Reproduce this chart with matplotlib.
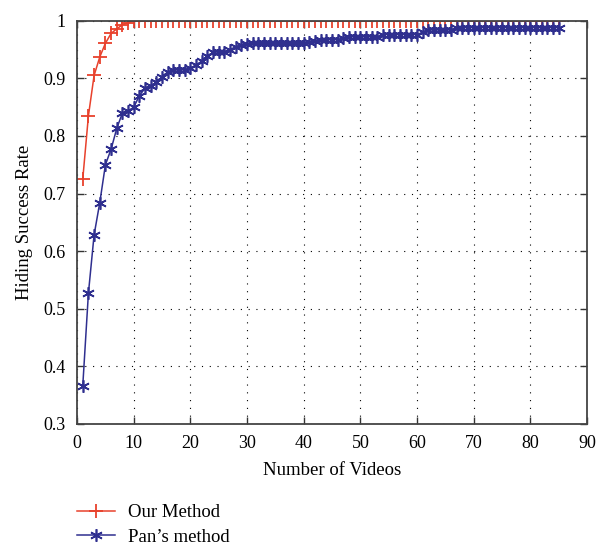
import numpy as np
import matplotlib
matplotlib.use('Agg')
import matplotlib.pyplot as plt

plt.rcParams['font.family'] = ['Liberation Serif', 'DejaVu Serif']

# Data
videos = np.arange(1, 86)
ours_head = [0.725, 0.835, 0.905, 0.937, 0.961, 0.978, 0.986, 0.993, 0.997]
ours = ours_head + [1.0] * (len(videos) - len(ours_head))

pan = ([0.366, 0.527, 0.628, 0.684, 0.750, 0.777, 0.813, 0.840, 0.843, 0.850,
        0.870, 0.883, 0.887, 0.893, 0.903, 0.911, 0.915, 0.914, 0.915, 0.918,
        0.923, 0.930, 0.939, 0.945, 0.946, 0.946, 0.950, 0.955, 0.958, 0.960]
       + [0.961] * 10
       + [0.963, 0.965, 0.967, 0.967, 0.967, 0.967, 0.970]
       + [0.972] * 6
       + [0.976] * 7
       + [0.980]
       + [0.984] * 5
       + [0.988] * 19)

fig = plt.figure(figsize=(6.07, 5.47), dpi=100)
ax = fig.add_axes([0.127, 0.225, 0.840, 0.737])

red = '#e8412c'
blue = '#2f2f8f'
ax.plot(videos, ours, color=red, lw=1.1, marker='+', ms=10, mew=1.3,
        label='Our Method')
ax.plot(videos, pan, color=blue, lw=1.1, marker=(6, 2, 0), ms=9, mew=1.2,
        label="Pan\u2019s method")

ax.set_xlim(0, 90)
ax.set_ylim(0.3, 1.0)
ax.set_xticks(np.arange(0, 91, 10))
ax.set_yticks(np.arange(0.3, 1.01, 0.1))
ax.set_yticklabels(['0.3', '0.4', '0.5', '0.6', '0.7', '0.8', '0.9', '1'])
ax.grid(True, color='black', linestyle=(0, (1, 6)), linewidth=0.8)
ax.tick_params(direction='in', top=True, right=True, labelsize=13,
               length=5, width=1, color='#333333', pad=8)
for s in ax.spines.values():
    s.set_color('#444444')
    s.set_linewidth(1.3)

ax.set_xlabel('Number of Videos', fontsize=13.5, labelpad=7)
ax.set_ylabel('Hiding Success Rate', fontsize=13.5, labelpad=8)

fig.legend(loc='upper left', bbox_to_anchor=(0.115, 0.092), frameon=False,
           fontsize=13.5, handlelength=2.0, handletextpad=0.7, labelspacing=0.4,
           borderaxespad=0)

fig.savefig('out.png', dpi=100)
